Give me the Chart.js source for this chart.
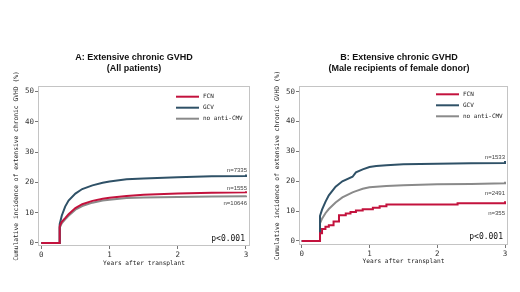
<!DOCTYPE html>
<html>
<head>
<meta charset="utf-8">
<script src="https://cdn.jsdelivr.net/npm/chart.js@4"></script>
<style>
  body { margin: 0; background: #fff; }
  .panel { position: absolute; top: 0; width: 260px; height: 292px; }
</style>
</head>
<body>
<div class="panel" style="left:0"><canvas id="chartA" width="260" height="292"></canvas></div>
<div class="panel" style="left:260px"><canvas id="chartB" width="260" height="292"></canvas></div>
<script>
// tick labels
const xTicks = [0, 1, 2, 3];
const yTicks = [0, 10, 20, 30, 40, 50];
const seriesNames = ['FCN', 'GCV', 'no anti-CMV'];

// A: all patients (years after transplant, cumulative incidence %)
const aTime = [0, 0.27, 0.27, 0.3, 0.35, 0.4, 0.5, 0.6, 0.75, 0.9, 1, 1.25, 1.5, 2, 2.5, 3, 3];
const aFCN  = [0, 0, 5.5, 7, 8.2, 9.5, 11.5, 12.8, 13.9, 14.6, 14.9, 15.5, 15.9, 16.3, 16.6, 16.7, 17.1];
const aGCV  = [0, 0, 6.2, 9, 12, 14, 16.3, 17.8, 19, 19.9, 20.3, 21, 21.3, 21.7, 22, 22.1, 22.6];
const aNone = [0, 0, 5, 6.5, 7.8, 9, 11, 12.2, 13.3, 14, 14.3, 14.8, 15, 15.2, 15.3, 15.4, 15.7];
const aN = ['n=1555', 'n=7335', 'n=10646'];

// B: male recipients of female donor
const bTime = [0, 0.27, 0.27, 0.3, 0.35, 0.4, 0.5, 0.6, 0.75, 0.8, 0.9, 1, 1.1, 1.25, 1.5, 2, 2.5, 3, 3];
const bGCV  = [0, 0, 8.4, 10.5, 13.1, 15.3, 18.2, 20, 21.5, 23, 24, 24.8, 25.1, 25.4, 25.7, 25.9, 26, 26.1, 26.8];
const bNone = [0, 0, 5.9, 7.5, 9.3, 10.7, 12.9, 14.6, 16.3, 16.7, 17.5, 18, 18.2, 18.4, 18.7, 19, 19.1, 19.3, 19.8];
const bFCNTime = [0, 0.27, 0.3, 0.35, 0.4, 0.47, 0.55, 0.65, 0.72, 0.8, 0.9, 1.05, 1.15, 1.25, 2.3, 3, 3];
const bFCN     = [0, 2.6, 4, 4.8, 5.3, 6.5, 8.6, 9.2, 9.7, 10.2, 10.6, 11.1, 11.6, 12.2, 12.6, 12.7, 13.3];
const bN = ['n=355', 'n=1533', 'n=2491'];

const colors = ['#c3123d', '#2f5167', '#8a8a8a'];
const mono = 'DejaVu Sans Mono';

function pts(t, v) {
  return t.map((x, i) => ({ x: x, y: v[i] }));
}

function ds(label, data, color, stepped) {
  return {
    label: label,
    data: data,
    borderColor: color,
    backgroundColor: color,
    borderWidth: 2,
    pointRadius: 0,
    showLine: true,
    stepped: stepped || false,
  };
}

// frame, titles, legend, n labels and p-value
const decor = {
  id: 'decor',
  afterDraw(chart, args, o) {
    const ctx = chart.ctx;
    const a = chart.chartArea;
    ctx.save();
    ctx.strokeStyle = '#c4c4c4';
    ctx.lineWidth = 1;
    ctx.strokeRect(a.left + 0.5, a.top + 0.5, a.right - a.left - 1, a.bottom - a.top - 1);

    ctx.fillStyle = '#111';
    ctx.textAlign = 'center';
    ctx.textBaseline = 'middle';
    ctx.font = 'bold 9px "Liberation Sans"';
    o.title.forEach((t, i) => ctx.fillText(t, o.titleX, o.titleY[i]));

    ctx.font = '6px "' + mono + '"';
    ctx.textAlign = 'left';
    chart.data.datasets.forEach((d, i) => {
      const y = o.legY + i * 11;
      ctx.strokeStyle = d.borderColor;
      ctx.lineWidth = 2;
      ctx.beginPath();
      ctx.moveTo(o.legX, y);
      ctx.lineTo(o.legX + 23, y);
      ctx.stroke();
      ctx.fillStyle = '#222';
      ctx.fillText(d.label, o.legX + 27, y);
    });

    ctx.font = '6px "Liberation Sans"';
    ctx.fillStyle = '#444';
    ctx.textAlign = 'right';
    o.nText.forEach((t, i) => ctx.fillText(t, o.nX, o.nY[i]));

    ctx.font = '8px "' + mono + '"';
    ctx.fillStyle = '#111';
    ctx.fillText('p<0.001', o.pX, o.pY);
    ctx.restore();
  }
};

function makeChart(id, datasets, s) {
  new Chart(document.getElementById(id), {
    type: 'scatter',
    data: { datasets: datasets },
    plugins: [decor],
    options: {
      responsive: false,
      animation: false,
      devicePixelRatio: 1,
      layout: { padding: { left: 0, top: s.top, right: s.right, bottom: 0 } },
      plugins: {
        legend: { display: false },
        tooltip: { enabled: false },
        decor: s.decor,
      },
      scales: {
        x: {
          type: 'linear',
          min: s.xMin, max: s.xMax,
          afterBuildTicks: sc => { sc.ticks = xTicks.map(v => ({ value: v })); },
          afterFit: sc => { sc.height = s.xHeight; },
          border: { display: false },
          grid: { drawOnChartArea: false, drawTicks: true, tickLength: 3, color: '#777' },
          ticks: { padding: 2, color: '#333', font: { family: mono, size: 7.5 } },
          title: {
            display: true,
            text: 'Years after transplant',
            color: '#222',
            font: { family: mono, size: 6.2 },
            padding: { top: 0, bottom: s.xTitlePad },
          },
        },
        y: {
          type: 'linear',
          min: s.yMin, max: s.yMax,
          afterBuildTicks: sc => { sc.ticks = yTicks.map(v => ({ value: v })); },
          afterFit: sc => { sc.width = s.yWidth; },
          border: { display: false },
          grid: { drawOnChartArea: false, drawTicks: true, tickLength: 3, color: '#777' },
          ticks: { padding: 1, color: '#333', font: { family: mono, size: 7.5 } },
          title: {
            display: true,
            text: 'Cumulative incidence of extensive chronic GVHD (%)',
            color: '#222',
            font: { family: mono, size: 6.3 },
            padding: { top: s.yTitlePad, bottom: 0 },
          },
        },
      },
    },
  });
}

makeChart('chartA', [
  ds(seriesNames[0], pts(aTime, aFCN), colors[0]),
  ds(seriesNames[1], pts(aTime, aGCV), colors[1]),
  ds(seriesNames[2], pts(aTime, aNone), colors[2]),
], {
  top: 86, right: 10, xHeight: 46, yWidth: 38,
  xMin: -0.048, xMax: 3.059, yMin: -1.0, yMax: 51.8,
  xTitlePad: 25, yTitlePad: 13,
  decor: {
    title: ['A: Extensive chronic GVHD', '(All patients)'],
    titleX: 134, titleY: [57.7, 69],
    legX: 176, legY: 96.7,
    nText: aN, nX: 247, nY: [188, 170.5, 203.3],
    pX: 245, pY: 239,
  },
});

makeChart('chartB', [
  ds(seriesNames[0], pts(bFCNTime, bFCN), colors[0], 'before'),
  ds(seriesNames[1], pts(bTime, bGCV), colors[1]),
  ds(seriesNames[2], pts(bTime, bNone), colors[2]),
], {
  top: 86, right: 12, xHeight: 47, yWidth: 39,
  xMin: -0.04, xMax: 3.044, yMin: -1.34, yMax: 51.9,
  xTitlePad: 27, yTitlePad: 14,
  decor: {
    title: ['B: Extensive chronic GVHD', '(Male recipients of female donor)'],
    titleX: 139, titleY: [57.3, 68.5],
    legX: 176, legY: 94.3,
    nText: bN, nX: 245, nY: [213, 157, 193],
    pX: 243, pY: 237,
  },
});
</script>
</body>
</html>
